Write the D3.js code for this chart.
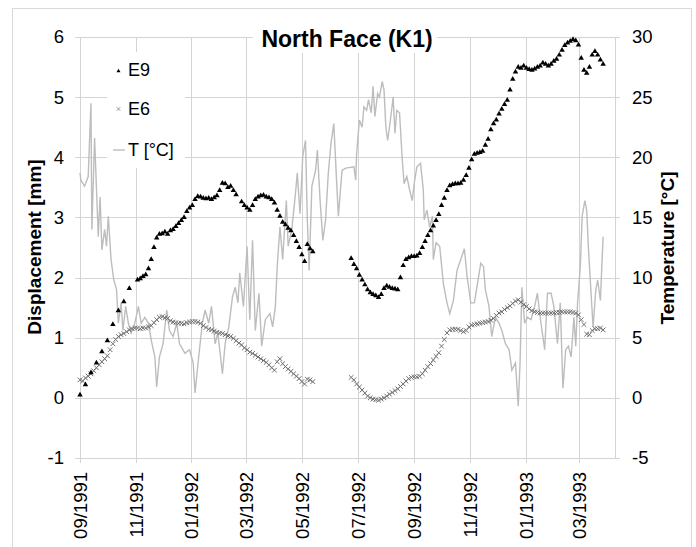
<!DOCTYPE html>
<html>
<head>
<meta charset="utf-8">
<script src="https://cdn.jsdelivr.net/npm/d3@7"></script>
<style>
  body { margin: 0; background: #fff; }
  svg text { font-family: "Liberation Sans", Arial, sans-serif; fill: #000; }
</style>
</head>
<body>
<div id="chart"></div>
<script>
// series start date, values are sampled every stepDays (null = no reading)
var startDate = new Date(Date.UTC(1991, 8, 1));
var endDate = new Date(Date.UTC(1993, 3, 9));
var stepDays = 3;

var e9Vals = [
  0.05, null, 0.22, null, 0.42, null, 0.58, null, 0.77, null,
  0.95, null, 1.22, null, 1.45, null, 1.60, null, 1.82, null,
  null, 1.96, 1.98, 2.02, 2.05, 2.15, 2.30, 2.50, 2.66, 2.72,
  2.73, 2.76, 2.72, 2.78, 2.80, 2.85, 2.90, 2.95, 3.00, 3.10,
  3.16, 3.20, 3.30, 3.35, 3.34, 3.32, 3.31, 3.32, 3.30, 3.33,
  3.36, 3.45, 3.57, 3.56, 3.50, 3.52, 3.45, 3.38, null, 3.26,
  3.20, 3.16, 3.12, 3.20, 3.30, 3.34, 3.36, 3.37, 3.34, 3.33,
  3.30, 3.24, 3.12, 3.02, 2.92, 2.88, 2.82, 2.78, 2.70, 2.60,
  2.50, 2.38, 2.27, 2.55, 2.48, 2.43, null, null, null, null,
  null, null, null, null, null, null, null, null, null, 2.32,
  2.22, 2.15, 2.04, 1.96, 1.88, 1.80, 1.75, 1.72, 1.70, 1.67,
  1.72, 1.82, 1.86, 1.84, 1.82, 1.81, 1.80, 2.00, 2.20, 2.30,
  2.33, 2.35, 2.35, 2.36, 2.40, 2.50, 2.60, 2.70, 2.78, 2.86,
  2.95, 3.05, 3.20, 3.32, 3.45, 3.53, 3.55, 3.56, 3.56, 3.57,
  3.62, 3.70, 3.82, 3.96, 4.05, 4.07, 4.08, 4.10, 4.20, 4.30,
  4.46, 4.56, 4.62, 4.72, 4.80, 4.88, 4.95, 5.12, 5.30, 5.42,
  5.50, 5.48, 5.52, 5.48, 5.46, 5.45, 5.47, 5.50, 5.52, 5.57,
  5.55, 5.52, 5.55, 5.60, 5.63, 5.70, 5.78, 5.86, 5.90, 5.93,
  5.96, 5.94, 5.87, 5.65, 5.45, 5.40, 5.50, 5.70, 5.76, 5.70,
  5.62, 5.55
];

var e6Vals = [
  0.30, 0.28, 0.33, 0.36, 0.40, 0.45, 0.50, 0.55, 0.60, 0.65,
  0.70, 0.80, 0.90, 0.97, 1.02, 1.05, 1.07, 1.10, 1.13, 1.15,
  1.16, 1.16, 1.15, 1.16, 1.16, 1.18, 1.20, 1.25, 1.30, 1.34,
  1.35, 1.33, 1.32, 1.28, 1.26, 1.25, 1.24, 1.24, 1.23, 1.25,
  1.26, 1.27, 1.27, 1.26, 1.24, 1.20, 1.17, 1.14, 1.13, 1.11,
  1.09, 1.08, 1.07, 1.05, 1.03, 1.02, 0.99, 0.95, 0.91, 0.88,
  0.83, 0.80, 0.76, 0.74, 0.71, 0.68, 0.65, 0.62, 0.59, 0.55,
  0.50, 0.46, 0.60, 0.65, 0.57, 0.52, 0.48, 0.44, 0.40, 0.36,
  0.32, 0.27, 0.23, 0.31, 0.30, 0.27, null, null, null, null,
  null, null, null, null, null, null, null, null, null, 0.34,
  0.30, 0.23, 0.18, 0.13, 0.08, 0.03, 0.00, -0.02, -0.03, -0.04,
  -0.02, 0.00, 0.03, 0.06, 0.09, 0.12, 0.15, 0.19, 0.23, 0.28,
  0.32, 0.34, 0.35, 0.35, 0.36, 0.40, 0.46, 0.52, 0.57, 0.63,
  0.69, 0.75, 0.86, 0.97, 1.08, 1.13, 1.14, 1.14, 1.14, 1.12,
  1.10, 1.12, 1.18, 1.21, 1.22, 1.23, 1.24, 1.25, 1.26, 1.27,
  1.29, 1.32, 1.37, 1.41, 1.43, 1.47, 1.50, 1.53, 1.57, 1.61,
  1.63, 1.59, 1.55, 1.52, 1.48, 1.45, 1.43, 1.42, 1.41, 1.41,
  1.41, 1.41, 1.41, 1.41, 1.42, 1.42, 1.43, 1.43, 1.43, 1.43,
  1.42, 1.41, 1.38, 1.30, 1.22, 1.06, 1.05, 1.12, 1.15, 1.15,
  1.16, 1.13
];

// temperature readings: [days after start, °C]
var tempObs = [
  [0,18.7],[1,18.1],[5,17.6],[9,18.4],[12,24.5],[13,14.0],[16,21.6],[18,17.5],[20,13.4],[22,16.7],
  [24,12.3],[27,14.0],[29,12.6],[31,15.1],[34,11.5],[37,9.8],[40,9.0],[42,6.2],[45,7.9],[47,5.6],
  [50,7.6],[53,6.2],[56,5.4],[60,6.2],[64,7.6],[67,6.2],[71,6.7],[75,6.2],[78,4.8],[82,3.4],
  [84,0.9],[87,3.4],[91,4.5],[95,7.3],[98,5.6],[102,5.1],[106,6.2],[109,4.5],[115,3.7],[120,4.0],
  [124,2.9],[126,0.4],[130,3.4],[134,6.2],[137,7.3],[141,6.2],[144,7.6],[148,4.5],[151,5.4],[156,2.0],
  [159,4.5],[163,5.9],[167,8.4],[170,9.2],[173,7.9],[175,10.4],[179,7.6],[183,12.6],[186,6.5],[189,13.1],
  [192,5.6],[196,8.7],[199,4.3],[203,6.5],[208,7.0],[211,5.9],[214,7.6],[216,10.9],[219,14.2],[222,11.5],
  [226,16.4],[228,12.6],[232,14.0],[236,17.0],[238,18.7],[241,15.3],[244,20.1],[247,21.4],[249,14.8],[251,10.6],
  [254,17.6],[258,18.9],[260,20.6],[263,16.4],[266,13.1],[269,14.8],[272,18.7],[275,21.2],[278,22.8],[281,18.1],
  [283,15.1],[287,18.9],[291,19.1],[300,19.2],[302,18.1],[303,20.3],[306,23.1],[309,22.5],[311,24.2],[314,23.9],
  [316,24.8],[319,23.7],[321,25.9],[323,23.4],[326,25.3],[328,25.0],[331,26.3],[333,25.6],[335,22.5],[337,21.4],
  [340,23.1],[343,25.0],[345,22.0],[347,23.9],[350,23.7],[353,19.8],[355,17.8],[358,18.4],[361,17.3],[364,16.4],
  [366,17.8],[369,19.2],[373,19.5],[376,17.3],[377,14.8],[380,15.6],[383,14.2],[386,15.1],[387,11.5],[390,12.9],
  [394,12.6],[398,9.5],[402,7.9],[405,7.0],[409,8.1],[413,10.6],[417,11.5],[421,12.4],[424,10.1],[428,7.9],
  [432,7.9],[436,9.8],[439,11.2],[442,10.9],[444,9.0],[448,7.6],[451,5.1],[455,6.7],[459,6.2],[462,5.6],
  [466,4.5],[470,4.0],[473,2.3],[477,2.9],[480,-0.7],[482,2.9],[484,9.2],[487,6.2],[490,6.7],[494,6.5],
  [498,7.6],[501,8.7],[504,6.7],[509,4.0],[512,8.7],[516,8.7],[519,7.6],[523,4.5],[526,7.9],[529,0.8],
  [532,4.0],[535,4.3],[538,3.4],[541,6.7],[543,4.3],[545,7.9],[548,10.9],[550,15.1],[553,16.4],[555,15.6],
  [557,12.3],[560,8.4],[562,5.9],[565,9.0],[567,9.8],[570,8.1],[572,11.7],[573,13.4]
];

var dispTicks = [-1, 0, 1, 2, 3, 4, 5, 6];
var tempTicks = [-5, 0, 5, 10, 15, 20, 25, 30];
var legendNames = ['E9', 'E6', 'T [°C]'];

var W = 696, H = 547;
var plotL = 80, plotR = 615, plotT = 37, plotB = 458;

var svg = d3.select('#chart').append('svg')
    .attr('width', W)
    .attr('height', H);

// outer chart border
svg.append('rect')
    .attr('x', 12.5).attr('y', 8.5)
    .attr('width', 679).attr('height', 560)
    .attr('fill', 'none')
    .attr('stroke', '#d9d9d9');

var xScale = d3.scaleUtc()
    .domain([startDate, endDate])
    .range([plotL, plotR]);

var yScale = d3.scaleLinear()
    .domain([-1, 6])
    .range([plotB, plotT]);

var tScale = d3.scaleLinear()
    .domain([-5, 30])
    .range([plotB, plotT]);

var monthTicks = d3.utcMonth.every(2).range(startDate, endDate);

// grid
var grid = svg.append('g').attr('stroke', '#d4d4d4').attr('stroke-width', 1);
grid.selectAll('.hg')
    .data(dispTicks)
    .enter().append('line')
    .attr('x1', plotL - 5).attr('x2', plotR + 5)
    .attr('y1', function(d){ return Math.round(yScale(d)) + 0.5; })
    .attr('y2', function(d){ return Math.round(yScale(d)) + 0.5; });
grid.selectAll('.vg')
    .data(monthTicks)
    .enter().append('line')
    .attr('y1', plotT).attr('y2', plotB + 5)
    .attr('x1', function(d){ return Math.round(xScale(d)) + 0.5; })
    .attr('x2', function(d){ return Math.round(xScale(d)) + 0.5; });
grid.append('line')
    .attr('x1', plotR + 0.5).attr('x2', plotR + 0.5)
    .attr('y1', plotT).attr('y2', plotB);

// axes
var plainNum = function(d){ return String(d); };
var yAxis = d3.axisLeft(yScale).tickValues(dispTicks).tickSize(0).tickPadding(16)
    .tickFormat(plainNum);
var tAxis = d3.axisRight(tScale).tickValues(tempTicks).tickSize(0).tickPadding(17)
    .tickFormat(plainNum);
var xAxis = d3.axisBottom(xScale).tickValues(monthTicks).tickSize(0)
    .tickFormat(d3.utcFormat('%m/%Y'));

var gy = svg.append('g').attr('transform', 'translate(' + plotL + ',0)').call(yAxis);
var gt = svg.append('g').attr('transform', 'translate(' + plotR + ',0)').call(tAxis);
var gx = svg.append('g').attr('transform', 'translate(0,' + plotB + ')').call(xAxis);
[gy, gt, gx].forEach(function(g){
    g.select('.domain').remove();
    g.selectAll('text').style('font-size', '18.5px').attr('fill', '#000');
});
gx.selectAll('text')
    .attr('transform', 'rotate(-90)')
    .attr('text-anchor', 'end')
    .attr('x', -14)
    .attr('y', 0)
    .attr('dy', '0.35em');

// series
var tempData = tempObs.map(function(p){
    return { date: d3.utcDay.offset(startDate, p[0]), v: p[1] };
});
function toPoints(vals){
    var out = [];
    vals.forEach(function(v, i){
        if (v !== null) out.push({ date: d3.utcDay.offset(startDate, i * stepDays), v: v });
    });
    return out;
}
var e9Data = toPoints(e9Vals);
var e6Data = toPoints(e6Vals);

var tLine = d3.line()
    .x(function(d){ return xScale(d.date); })
    .y(function(d){ return tScale(d.v); });

svg.append('path')
    .datum(tempData)
    .attr('d', tLine)
    .attr('fill', 'none')
    .attr('stroke', '#bdbdbd')
    .attr('stroke-width', 1.4);

var xSym = d3.symbol().type(d3.symbolX).size(16);
var triSym = d3.symbol().type(d3.symbolTriangle).size(13);

svg.append('g').selectAll('path')
    .data(e6Data)
    .enter().append('path')
    .attr('d', xSym)
    .attr('transform', function(d){ return 'translate(' + xScale(d.date) + ',' + yScale(d.v) + ')'; })
    .attr('fill', 'none')
    .attr('stroke', '#6f6f6f')
    .attr('stroke-width', 1);

svg.append('g').selectAll('path')
    .data(e9Data)
    .enter().append('path')
    .attr('d', triSym)
    .attr('transform', function(d){ return 'translate(' + xScale(d.date) + ',' + yScale(d.v) + ')'; })
    .attr('fill', '#000');

// title
svg.append('rect')
    .attr('x', 253).attr('y', 20).attr('width', 184).attr('height', 33)
    .attr('fill', '#fff');
svg.append('text')
    .attr('x', 347).attr('y', 47)
    .attr('text-anchor', 'middle')
    .style('font-size', '23px')
    .style('font-weight', 'bold')
    .text('North Face (K1)');

// axis titles
svg.append('text')
    .attr('transform', 'translate(41,247) rotate(-90)')
    .attr('text-anchor', 'middle')
    .style('font-size', '19px')
    .style('font-weight', 'bold')
    .text('Displacement [mm]');
svg.append('text')
    .attr('transform', 'translate(674,248) rotate(-90)')
    .attr('text-anchor', 'middle')
    .style('font-size', '19px')
    .style('font-weight', 'bold')
    .text('Temperature [°C]');

// legend
var lg = svg.append('g');
lg.append('rect')
    .attr('x', 107).attr('y', 52).attr('width', 78).attr('height', 116)
    .attr('fill', '#fff');
var legendY = [70, 109, 150];
lg.append('path').attr('d', d3.symbol().type(d3.symbolTriangle).size(7))
    .attr('transform', 'translate(118.5,' + (legendY[0] + 1) + ')')
    .attr('fill', '#000');
lg.append('path').attr('d', d3.symbol().type(d3.symbolX).size(10))
    .attr('transform', 'translate(118.5,' + legendY[1] + ')')
    .attr('fill', 'none').attr('stroke', '#8a8a8a').attr('stroke-width', 0.9);
lg.append('line')
    .attr('x1', 113).attr('x2', 125)
    .attr('y1', legendY[2]).attr('y2', legendY[2])
    .attr('stroke', '#bdbdbd').attr('stroke-width', 1.4);
lg.selectAll('text')
    .data(legendNames)
    .enter().append('text')
    .attr('x', 128)
    .attr('y', function(d, i){ return legendY[i]; })
    .attr('dy', '0.35em')
    .style('font-size', '18px')
    .text(function(d){ return d; });
</script>
</body>
</html>
